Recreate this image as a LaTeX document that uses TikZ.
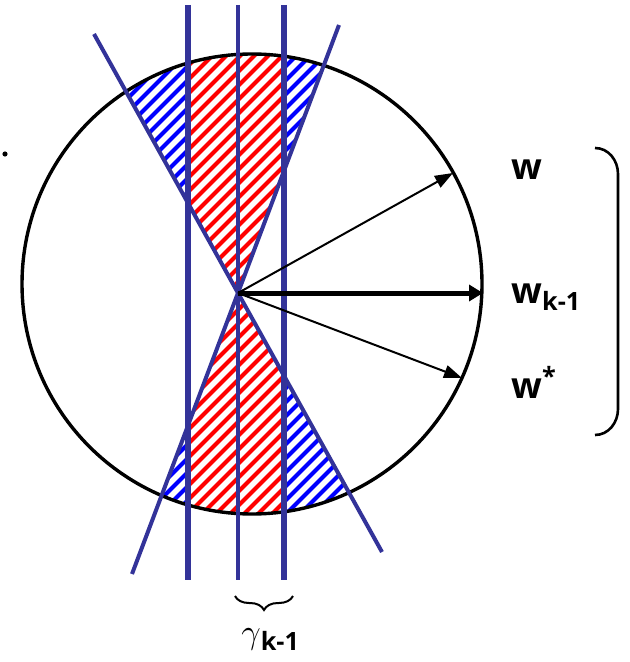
\documentclass[tikz,border=0pt]{standalone}
\usepackage{fontspec}
\setmainfont{Open Sans}
\usetikzlibrary{arrows.meta, decorations.pathreplacing}
\definecolor{lineblue}{RGB}{51,51,153}
\definecolor{hatchred}{RGB}{255,0,0}
\definecolor{hatchblue}{RGB}{0,0,255}

\begin{document}
\begin{tikzpicture}[x=0.5pt, y=-0.5pt,
  cutline/.style={lineblue, line width=2pt},
  bandline/.style={lineblue, line width=3pt},
  vec/.style={-{Triangle[length=9pt, width=6.5pt]}, line width=1pt},
  lbl/.style={font=\fontsize{18}{21}\selectfont\bfseries, inner sep=0pt, anchor=base west},
  stripe/.style={#1, line width=2pt}]
  \useasboundingbox (0,0) rectangle (629,662);

  % Key points
  \coordinate (c) at (252,284);
  \coordinate (o) at (238,293);
  \coordinate (l1a) at (94,34);
  \coordinate (l1b) at (382,552);
  \coordinate (l2a) at (339,25);
  \coordinate (l2b) at (132,574);

  % Hatched double cone inside the ball
  \begin{scope}
    \clip (c) circle[radius=115pt];
    \clip (l1a) -- (o) -- (l2a) -- cycle (l2b) -- (o) -- (l1b) -- cycle;
    \foreach \s in {-600,-586,...,320}
      \draw[stripe=hatchblue] (\s,700) -- ++(800,-800);
    \fill[white] (188,0) rectangle (284,662);
    \clip (188,0) rectangle (284,662);
    \foreach \s in {-600,-586,...,320}
      \draw[stripe=hatchred] (\s,700) -- ++(800,-800);
  \end{scope}

  % Ball
  \draw[line width=1.7pt] (c) circle[radius=115pt];

  % Band lines
  \draw[bandline] (188,5) -- (188,580);
  \draw[bandline] (284,5) -- (284,580);
  \draw[cutline] (238,5) -- (238,580);

  % Cone lines
  \draw[cutline] (l1a) -- (l1b);
  \draw[cutline] (l2a) -- (l2b);

  % Vectors
  \coordinate (tipw) at (453,173);
  \coordinate (tipk) at (483,293);
  \coordinate (tips) at (462,378);
  \draw[vec] (o) -- (tipw);
  \draw[vec] (o) -- (tips);
  \draw[vec, line width=2.5pt, -{Triangle[length=7pt, width=8pt]}] (o) -- (tipk);

  % Labels
  \node[lbl] (w) at (511,180) {w};
  \node[lbl] (wk) at (511,303) {w\textsubscript{k-1}};
  \node[lbl] (ws) at (511,398) {w\textsuperscript{*}};

  % Right bracket
  \draw[line width=1.3pt] (595,148) to[out=0, in=90] (618,174) -- (618,409) to[out=-90, in=0] (595,435);

  % Margin brace
  \coordinate (ba) at (235,596);
  \coordinate (bb) at (293,596);
  \draw[line width=1pt, decorate, decoration={brace, mirror, amplitude=7pt}] (ba) -- (bb);
  \node[lbl] (gam) at (241,643) {$\gamma$\textsubscript{k-1}};

  % Stray dot
  \fill (5,154) circle[radius=1.3pt];
\end{tikzpicture}
\end{document}
